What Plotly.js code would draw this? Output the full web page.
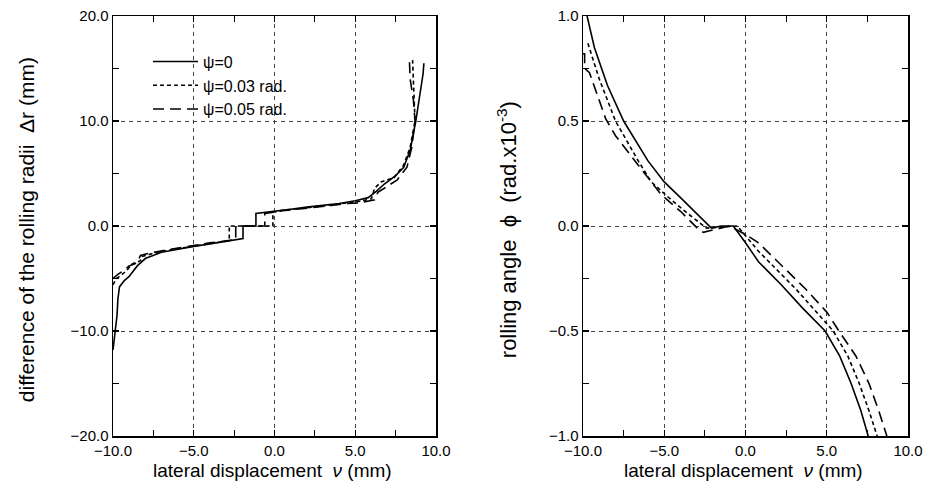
<!DOCTYPE html>
<html>
<head>
<meta charset="utf-8">
<script src="https://cdn.plot.ly/plotly-3.0.1.min.js"></script>
<style>html,body{margin:0;padding:0;background:#fff;}#chart{width:940px;height:496px;}</style>
</head>
<body>
<div id="chart"></div>
<script>
// Left panel: difference of rolling radii Δr (mm) vs lateral displacement v (mm)
const dr_v0   = [-10.0,-9.9,-9.75,-9.7,-9.6,-9.3,-9.0,-8.5,-8.0,-7.0,-6.0,-5.0,-4.0,-3.0,-1.95,-1.95,-1.15,-1.15,0,1,2,3,4,5,5.8,6.3,6.8,7.5,8.0,8.4,8.75,9.0,9.2,9.25];
const dr_y0   = [-11.8,-10.5,-8.5,-7.0,-5.8,-5.2,-4.8,-3.8,-3.1,-2.5,-2.2,-1.95,-1.7,-1.45,-1.2,0,0,1.2,1.45,1.6,1.8,1.95,2.15,2.4,2.7,3.3,4.0,4.8,5.6,7.2,10,12.5,14.5,15.5];
const dr_v03  = [-10.0,-9.8,-9.5,-9.2,-8.8,-8.3,-8.2,-7.5,-6.0,-5.0,-4.0,-2.8,-2.8,-0.1,-0.1,0.5,1.5,2.5,3.5,4.5,5.3,6.0,6.2,6.6,7.4,8.0,8.4,8.7,8.65,8.6,8.55];
const dr_y03  = [-5.6,-5.0,-4.7,-4.3,-3.6,-3.3,-2.9,-2.6,-2.15,-1.9,-1.65,-1.4,0,0,1.3,1.5,1.65,1.8,2.0,2.2,2.35,2.6,3.6,4.2,4.6,5.8,7.5,10,12.5,14.5,15.8];
const dr_v05  = [-10.0,-9.7,-9.3,-9.0,-8.5,-8.3,-7.5,-6.0,-5.0,-4.0,-2.4,-2.4,-0.6,-0.6,0.5,1.5,2.5,3.5,4.5,5.3,6.2,6.4,7.0,7.6,8.2,8.5,8.7,8.6,8.4,8.35];
const dr_y05  = [-5.0,-4.6,-4.2,-3.8,-3.5,-2.8,-2.5,-2.1,-1.85,-1.6,-1.3,0,0,1.2,1.45,1.6,1.75,1.95,2.15,2.2,2.5,3.2,3.8,4.4,5.6,7.5,10,12,14,15.9];

// Right panel: rolling angle ϕ (rad x10^-3) vs lateral displacement v (mm)
const ph_v0   = [-9.75,-9.3,-8.5,-7.5,-6.0,-5.0,-4.0,-3.0,-2.1,-1.5,-0.75,0,0.8,2.2,3.5,4.9,5.8,6.5,7.1,7.55];
const ph_y0   = [1.0,0.85,0.67,0.5,0.31,0.21,0.135,0.06,-0.01,0.0,0.0,-0.08,-0.17,-0.28,-0.39,-0.5,-0.62,-0.75,-0.88,-1.0];
const ph_v03  = [-9.7,-9.0,-8.0,-6.6,-5.8,-4.5,-3.4,-2.4,-1.5,-0.5,0.8,3.1,5.4,6.3,7.0,7.6,8.1];
const ph_y03  = [0.87,0.7,0.5,0.31,0.21,0.12,0.05,-0.01,-0.005,0.0,-0.12,-0.3,-0.5,-0.62,-0.75,-0.88,-1.0];
const ph_v05  = [-10.0,-9.9,-9.9,-9.6,-8.6,-8.0,-6.8,-5.2,-4.0,-2.9,-2.6,-1.0,0,0.8,3.7,5.0,5.75,6.8,7.6,8.2,8.7];
const ph_y05  = [0.82,0.82,0.75,0.73,0.51,0.43,0.31,0.15,0.07,-0.015,-0.03,0.0,-0.04,-0.08,-0.3,-0.41,-0.5,-0.62,-0.75,-0.88,-1.0];

const seriesNames = ['\u03c8=0','\u03c8=0.03 rad.','\u03c8=0.05 rad.'];
const xTickVals = [-10,-5,0,5,10];
const drTickVals = [-20,-10,0,10,20];
const phTickVals = [-1,-0.5,0,0.5,1];

const FONT = 'Liberation Sans, Arial, Helvetica, sans-serif';
const styles = [
  {color:'#000', width:1.6, dash:'solid'},
  {color:'#000', width:1.6, dash:'4px,3px'},
  {color:'#000', width:1.6, dash:'11px,6px'}
];

const traces = [
  {x:dr_v0, y:dr_y0, name:seriesNames[0], xaxis:'x', yaxis:'y', showlegend:true},
  {x:dr_v03, y:dr_y03, name:seriesNames[1], xaxis:'x', yaxis:'y', showlegend:true},
  {x:dr_v05, y:dr_y05, name:seriesNames[2], xaxis:'x', yaxis:'y', showlegend:true},
  {x:ph_v0, y:ph_y0, name:seriesNames[0], xaxis:'x2', yaxis:'y2', showlegend:false},
  {x:ph_v03, y:ph_y03, name:seriesNames[1], xaxis:'x2', yaxis:'y2', showlegend:false},
  {x:ph_v05, y:ph_y05, name:seriesNames[2], xaxis:'x2', yaxis:'y2', showlegend:false}
].map((t,i)=>Object.assign(t,{type:'scatter', mode:'lines', line:styles[i%3], hoverinfo:'skip'}));

function xAxis(domain, anchor){
  return {domain:domain, anchor:anchor, range:[-10,10], tickvals:xTickVals, tickformat:'.1f',
    ticks:'inside', ticklen:6, tickwidth:1.2, tickcolor:'#000', mirror:'allticks', showline:true, linecolor:'#000', linewidth:1.5,
    minor:{dtick:2.5, tick0:0, ticks:'inside', ticklen:6, tickwidth:1.2, tickcolor:'#000', showgrid:false},
    showgrid:true, gridcolor:'#444', gridwidth:1, griddash:'4px,4px', zeroline:false,
    tickfont:{family:FONT, size:15, color:'#000'}, fixedrange:true};
}
function yAxis(anchor, range, tickvals, minorD){
  return {anchor:anchor, domain:[0,1], range:range, tickvals:tickvals, tickformat:'.1f',
    ticks:'inside', ticklen:6, tickwidth:1.2, tickcolor:'#000', mirror:'allticks', showline:true, linecolor:'#000', linewidth:1.5,
    minor:{dtick:minorD, ticks:'inside', ticklen:6, tickwidth:1.2, tickcolor:'#000', showgrid:false},
    showgrid:true, gridcolor:'#444', gridwidth:1, griddash:'4px,4px', zeroline:false,
    tickfont:{family:FONT, size:15, color:'#000'}, fixedrange:true};
}

const layout = {
  width:940, height:496,
  margin:{l:0, r:0, t:16, b:60},
  paper_bgcolor:'#fff', plot_bgcolor:'#fff',
  showlegend:true,
  legend:{x:148/940, y:0.932, xanchor:'left', yanchor:'top', bgcolor:'rgba(0,0,0,0)', itemwidth:45,
    font:{family:FONT, size:16, color:'#000'}, tracegroupgap:0},
  xaxis: xAxis([113/940, 436/940], 'y'),
  yaxis: yAxis('x', [-20,20], drTickVals, 5),
  xaxis2: xAxis([583/940, 908/940], 'y2'),
  yaxis2: yAxis('x2', [-1,1], phTickVals, 0.25),
  annotations:[
    {xref:'paper', yref:'paper', x:(272)/940, y:-0.083, xanchor:'center', yanchor:'middle', showarrow:false,
     text:'lateral displacement  <i>\u03bd</i> (mm)', font:{family:FONT, size:19, color:'#000'}},
    {xref:'paper', yref:'paper', x:(743)/940, y:-0.083, xanchor:'center', yanchor:'middle', showarrow:false,
     text:'lateral displacement  <i>\u03bd</i> (mm)', font:{family:FONT, size:19, color:'#000'}},
    {xref:'paper', yref:'paper', x:26/940, y:0.49, xanchor:'center', yanchor:'middle', showarrow:false, textangle:-90,
     text:'difference of the rolling radii  \u0394r (mm)', font:{family:FONT, size:21, color:'#000'}},
    {xref:'paper', yref:'paper', x:507/940, y:0.49, xanchor:'center', yanchor:'middle', showarrow:false, textangle:-90,
     text:'rolling angle  \u03d5  (rad.x10<sup>-3</sup>)', font:{family:FONT, size:22, color:'#000'}}
  ]
};

Plotly.newPlot('chart', traces, layout, {displayModeBar:false, staticPlot:true});
</script>
</body>
</html>
